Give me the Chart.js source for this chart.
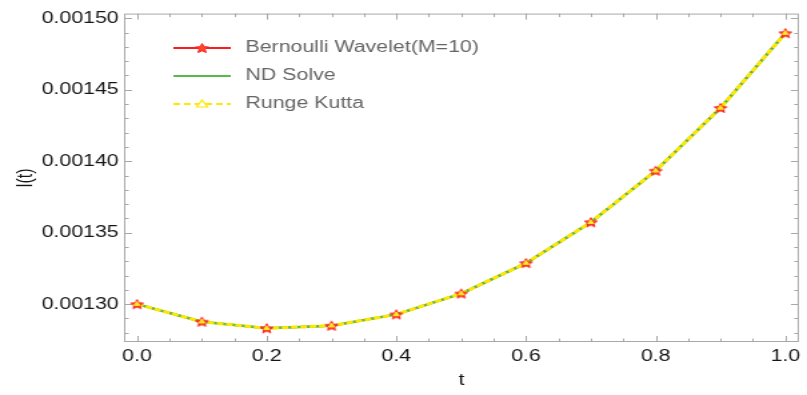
<!DOCTYPE html>
<html>
<head>
<meta charset="utf-8">
<script src="https://cdn.jsdelivr.net/npm/chart.js@4/dist/chart.umd.min.js"></script>
<style>
  html, body { margin: 0; padding: 0; background: #fff; overflow: hidden; }
  /* the reference is stretched horizontally, so draw narrow and stretch */
  #wrap { width: 605px; height: 395px; transform: scaleX(1.33388); transform-origin: 0 0; }
</style>
</head>
<body>
<div id="wrap"><canvas id="chart"></canvas></div>
<script>
// data
const tValues = [0, 0.1, 0.2, 0.3, 0.4, 0.5, 0.6, 0.7, 0.8, 0.9, 1.0];
const bernoulli = [0.0013000, 0.0012877, 0.0012831, 0.0012849, 0.0012928, 0.0013074, 0.0013287, 0.0013573, 0.0013933, 0.0014373, 0.0014896];
const ndSolve = [0.0013000, 0.0012877, 0.0012831, 0.0012849, 0.0012928, 0.0013074, 0.0013287, 0.0013573, 0.0013933, 0.0014373, 0.0014896];
const rungeKutta = [0.0013000, 0.0012877, 0.0012831, 0.0012849, 0.0012928, 0.0013074, 0.0013287, 0.0013573, 0.0013933, 0.0014373, 0.0014896];
const seriesNames = ['Bernoulli Wavelet(M=10)', 'ND Solve', 'Runge Kutta'];
const xTicks = [0, 0.2, 0.4, 0.6, 0.8, 1.0];
const yTicks = [0.0013, 0.00135, 0.0014, 0.00145, 0.0015];

const RED = 'rgb(250,30,30)';
const GREEN = 'rgb(90,185,75)';
const YELLOW = 'rgb(255,232,0)';
const FONT = 'Liberation Sans, Arial, sans-serif';
const TEXT = '#151515';

// filled five point star
function drawStar(ctx, cx, cy, r) {
    ctx.beginPath();
    for (let i = 0; i < 10; i++) {
        const rad = i % 2 === 0 ? r : r * 0.45;
        const a = -Math.PI / 2 + i * Math.PI / 5;
        ctx.lineTo(cx + Math.cos(a) * rad, cy + Math.sin(a) * rad);
    }
    ctx.closePath();
    ctx.fillStyle = 'rgb(255,70,40)';
    ctx.fill();
    ctx.lineWidth = 1;
    ctx.strokeStyle = RED;
    ctx.stroke();
}

const starImg = document.createElement('canvas');
starImg.width = 12; starImg.height = 12;
drawStar(starImg.getContext('2d'), 6, 6.5, 5);

// legend samples: line with marker
function legendSample(kind) {
    const c = document.createElement('canvas');
    c.width = 71; c.height = 14;
    const g = c.getContext('2d');
    g.beginPath();
    g.moveTo(25, 7); g.lineTo(68, 7);
    if (kind === 0) { g.strokeStyle = RED; g.lineWidth = 2; }
    if (kind === 1) { g.strokeStyle = GREEN; g.lineWidth = 2; }
    if (kind === 2) { g.strokeStyle = YELLOW; g.lineWidth = 2; g.setLineDash([5, 3]); }
    g.stroke();
    g.setLineDash([]);
    if (kind === 0) drawStar(g, 46.5, 7.5, 5);
    if (kind === 2) {
        g.beginPath();
        g.moveTo(46.5, 3); g.lineTo(50.5, 10); g.lineTo(42.5, 10); g.closePath();
        g.fillStyle = '#fff'; g.fill();
        g.lineWidth = 1.2; g.strokeStyle = YELLOW; g.stroke();
    }
    return c;
}
const legendImgs = [legendSample(0), legendSample(1), legendSample(2)];

const pts = arr => arr.map((v, i) => ({x: tValues[i], y: v}));

// frame with inward ticks, as in the original plot
const framePlugin = {
    id: 'frame',
    beforeDatasetsDraw(chart) {
        const {ctx, chartArea: a, scales: {x, y}} = chart;
        ctx.save();
        ctx.strokeStyle = '#a8a8a8';
        ctx.lineWidth = 1;
        ctx.strokeRect(a.left + 0.5, a.top + 0.5, a.right - a.left - 1, a.bottom - a.top - 1);
        ctx.beginPath();
        for (let k = 0; k <= 20; k++) {
            const v = k * 0.05;
            const px = Math.round(x.getPixelForValue(v)) + 0.5;
            const len = k % 4 === 0 ? 6 : 3.5;
            ctx.moveTo(px, a.bottom); ctx.lineTo(px, a.bottom - len);
            ctx.moveTo(px, a.top); ctx.lineTo(px, a.top + len);
        }
        for (let k = 128; k <= 150; k++) {
            const v = k * 0.00001;
            const py = Math.round(y.getPixelForValue(v)) + 0.5;
            const len = k % 5 === 0 ? 6 : 3.5;
            ctx.moveTo(a.left, py); ctx.lineTo(a.left + len, py);
            ctx.moveTo(a.right, py); ctx.lineTo(a.right - len, py);
        }
        ctx.stroke();
        ctx.restore();
    }
};

new Chart(document.getElementById('chart'), {
    type: 'line',
    data: {
        datasets: [
            { label: seriesNames[0], data: pts(bernoulli), borderColor: RED, borderWidth: 2, pointRadius: 0, order: 5 },
            { label: seriesNames[1], data: pts(ndSolve), borderColor: GREEN, borderWidth: 2.5, pointRadius: 0, order: 4 },
            { label: seriesNames[2], data: pts(rungeKutta), borderColor: YELLOW, borderWidth: 3, borderDash: [5, 2], pointRadius: 0, order: 3 },
            { label: 'stars', data: pts(bernoulli), showLine: false, pointStyle: starImg, pointRadius: 5, order: 2 },
            { label: 'triangles', data: pts(rungeKutta), showLine: false, pointStyle: 'triangle', pointRadius: 2.5,
              borderColor: YELLOW, backgroundColor: 'rgba(255,240,120,0.9)', borderWidth: 1, order: 1 }
        ]
    },
    options: {
        responsive: true,
        maintainAspectRatio: false,
        animation: false,
        layout: { padding: { top: 12, right: 2, bottom: 0, left: 0 } },
        plugins: {
            tooltip: { enabled: false },
            legend: {
                position: 'chartArea',
                align: 'start',
                title: { display: true, text: ' ', font: { size: 10 }, padding: 8 },
                labels: {
                    usePointStyle: true,
                    pointStyleWidth: 71,
                    padding: 12,
                    color: TEXT,
                    font: { family: FONT, size: 16 },
                    generateLabels: () => seriesNames.map((name, i) => ({
                        text: name,
                        pointStyle: legendImgs[i],
                        fillStyle: 'transparent',
                        strokeStyle: 'transparent',
                        lineWidth: 0,
                        datasetIndex: i
                    }))
                }
            }
        },
        scales: {
            x: {
                type: 'linear',
                min: -0.02,
                max: 1.021,
                afterBuildTicks: s => { s.ticks = xTicks.map(v => ({value: v})); },
                afterFit: s => { s.height = 53; },
                grid: { display: false, drawTicks: false },
                border: { display: false },
                ticks: {
                    padding: 5,
                    maxRotation: 0,
                    color: TEXT,
                    font: { family: FONT, size: 16 },
                    callback: v => v.toFixed(1)
                },
                title: { display: true, text: 't', color: TEXT, font: { family: FONT, size: 16 }, padding: { bottom: 5 } }
            },
            y: {
                type: 'linear',
                min: 0.0012735,
                max: 0.0015033,
                afterBuildTicks: s => { s.ticks = yTicks.map(v => ({value: v})); },
                afterFit: s => { s.width = 93; },
                grid: { display: false, drawTicks: false },
                border: { display: false },
                ticks: {
                    padding: 4,
                    color: TEXT,
                    font: { family: FONT, size: 16 },
                    callback: v => v.toFixed(5)
                },
                title: { display: true, text: 'l(t)', color: TEXT, font: { family: FONT, size: 16 }, padding: { top: 10 } }
            }
        }
    },
    plugins: [framePlugin]
});
</script>
</body>
</html>
